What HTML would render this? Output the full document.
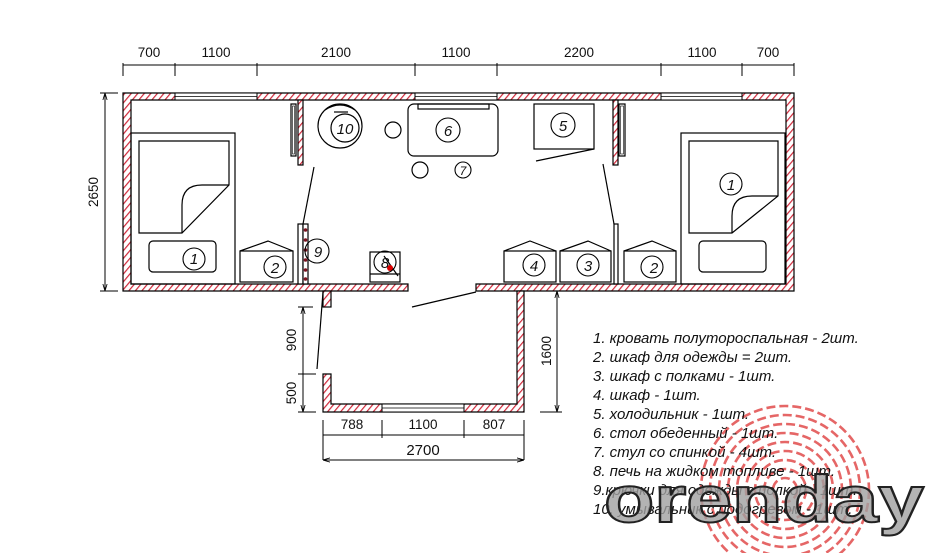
<!DOCTYPE html>
<html><head><meta charset="utf-8"><style>
html,body{margin:0;padding:0;background:#fff;overflow:hidden;width:927px;height:553px;}
svg{display:block;}
text{font-family:"Liberation Sans",sans-serif;fill:#111;}
.n{font-style:italic;font-size:15px;text-anchor:middle;}
.d{font-size:13.5px;text-anchor:middle;}
.l{font-style:italic;font-size:15px;}
</style></head><body>
<svg width="927" height="553" viewBox="0 0 927 553" xmlns="http://www.w3.org/2000/svg">
<defs>
<pattern id="h" width="5" height="5" patternUnits="userSpaceOnUse" patternTransform="rotate(40)">
<rect width="5" height="5" fill="#fff"/><line x1="0" y1="0" x2="0" y2="5" stroke="#d0283a" stroke-width="2.4"/>
</pattern>
<marker id="a" viewBox="0 0 10 10" refX="10" refY="5" markerWidth="7" markerHeight="7" orient="auto-start-reverse"><path d="M0,2 L10,5 L0,8" fill="none" stroke="#000" stroke-width="1.2"/></marker>
<clipPath id="c"><rect x="0" y="0" width="927" height="553"/></clipPath>
</defs>
<g clip-path="url(#c)">
<g fill="none" stroke="#d33" stroke-width="2.6" opacity="0.75" stroke-dasharray="9 4">
<circle cx="785" cy="490" r="12"/><circle cx="785" cy="490" r="21"/><circle cx="785" cy="490" r="30"/><circle cx="785" cy="490" r="39"/><circle cx="785" cy="490" r="48"/><circle cx="785" cy="490" r="57"/><circle cx="785" cy="490" r="66"/><circle cx="785" cy="490" r="75"/><circle cx="785" cy="490" r="84"/>
</g>
<g stroke="#000" stroke-width="1" fill="none">
<line x1="123" y1="65" x2="794" y2="65"/>
<line x1="123" y1="63" x2="123" y2="76"/><line x1="175" y1="63" x2="175" y2="76"/><line x1="257" y1="63" x2="257" y2="76"/><line x1="415" y1="63" x2="415" y2="76"/><line x1="497" y1="63" x2="497" y2="76"/><line x1="661" y1="63" x2="661" y2="76"/><line x1="742" y1="63" x2="742" y2="76"/><line x1="794" y1="63" x2="794" y2="76"/>
<line x1="105" y1="93" x2="105" y2="291" marker-start="url(#a)" marker-end="url(#a)"/>
<line x1="100" y1="93" x2="118" y2="93"/><line x1="100" y1="291" x2="118" y2="291"/>
</g>
<g class="d">
<text x="149" y="57">700</text><text x="216" y="57">1100</text><text x="336" y="57">2100</text><text x="456" y="57">1100</text><text x="579" y="57">2200</text><text x="702" y="57">1100</text><text x="768" y="57">700</text>
</g>
<text class="d" transform="translate(98,192) rotate(-90)">2650</text>

<g fill="url(#h)" stroke="#000" stroke-width="1.2">
<path d="M123,93 H794 V291 H476 V284 H786 V100 H131 V284 H408 V291 H123 Z"/>
<rect x="323" y="291" width="8" height="16"/>
<path d="M323,374 H331 V404 H517 V291 H524 V412 H323 Z"/>
<rect x="298" y="100" width="5" height="65"/>
<rect x="613" y="100" width="5" height="65"/>
</g>
<g fill="#fff" stroke="#000" stroke-width="1">
<rect x="175" y="93" width="82" height="7"/><rect x="415" y="93" width="82" height="7"/><rect x="661" y="93" width="81" height="7"/>
<rect x="382" y="404" width="82" height="8"/>
</g>
<g stroke="#000" stroke-width="0.8"><line x1="175" y1="96.5" x2="257" y2="96.5"/><line x1="415" y1="96.5" x2="497" y2="96.5"/><line x1="661" y1="96.5" x2="742" y2="96.5"/><line x1="382" y1="408" x2="464" y2="408"/></g>

<g fill="none" stroke="#000" stroke-width="1.2">
<rect x="291" y="104" width="5" height="52"/><rect x="292.5" y="106" width="2" height="48" stroke-width="0.6"/>
<rect x="619" y="104" width="6" height="52"/><rect x="620.5" y="106" width="3" height="48" stroke-width="0.6"/>
<rect x="298" y="224" width="5" height="60" fill="#fff"/>
<rect x="303" y="224" width="5" height="60" fill="#fff"/>
<rect x="614" y="224" width="4" height="60" fill="#fff"/>
<line x1="303" y1="224" x2="314" y2="167"/>
<line x1="603" y1="164" x2="614" y2="224"/>
<line x1="317" y1="369" x2="323" y2="292"/>
<line x1="412" y1="307" x2="476" y2="292"/>
<rect x="131" y="133" width="104" height="151"/>
<path d="M139,141 H229 V185 L182,233 H139 Z"/>
<path d="M229,185 H202 Q182,185 182,205 V233"/>
<rect x="149" y="241" width="67" height="31" rx="4"/>
<rect x="681" y="133" width="104" height="151"/>
<path d="M689,141 H778 V196 L732,233 H689 Z"/>
<path d="M778,196 H752 Q732,196 732,216 V233"/>
<rect x="699" y="241" width="67" height="31" rx="4"/>
<rect x="240" y="251" width="53" height="31"/><path d="M240,251 L268,241 L293,251"/>
<rect x="504" y="251" width="52" height="31"/><path d="M504,251 L530,241 L556,251"/>
<rect x="560" y="251" width="51" height="31"/><path d="M560,251 L588,241 L611,251"/>
<rect x="624" y="251" width="52" height="31"/><path d="M624,251 L652,241 L676,251"/>
<rect x="534" y="104" width="60" height="45"/>
<line x1="536" y1="161" x2="594" y2="149"/>
<rect x="408" y="104" width="90" height="52" rx="6"/>
<rect x="418" y="104" width="71" height="5"/>
<circle cx="393" cy="130" r="8"/><circle cx="420" cy="170" r="8"/>
<circle cx="340" cy="126" r="22"/>
<path d="M325,110 Q340,100 355,110"/>
<circle cx="345" cy="128" r="14"/>
<line x1="334" y1="112" x2="348" y2="112"/>
<rect x="370" y="252" width="30" height="30"/>
<line x1="370" y1="274" x2="400" y2="274"/>
<line x1="384" y1="256" x2="398" y2="276"/>
</g>
<g fill="#7a1420"><circle cx="305.5" cy="230" r="1.8"/><circle cx="305.5" cy="240" r="1.8"/><circle cx="305.5" cy="250" r="1.8"/><circle cx="305.5" cy="260" r="1.8"/><circle cx="305.5" cy="270" r="1.8"/><circle cx="305.5" cy="279" r="1.8"/></g>
<circle cx="390" cy="268" r="3" fill="#d00"/>
<g fill="none" stroke="#000" stroke-width="1.1">
<circle cx="194" cy="259" r="11"/><circle cx="275" cy="267" r="11"/><circle cx="317" cy="251" r="12"/><circle cx="385" cy="262" r="11"/>
<circle cx="731" cy="184" r="11"/><circle cx="652" cy="267" r="11"/><circle cx="588" cy="265" r="11"/><circle cx="534" cy="265" r="11"/>
<circle cx="563" cy="125" r="12"/><circle cx="448" cy="130" r="12"/><circle cx="463" cy="170" r="8"/>
</g>
<g class="n">
<text x="194" y="264">1</text><text x="275" y="273">2</text><text x="318" y="257">9</text><text x="385" y="268">8</text>
<text x="731" y="190">1</text><text x="654" y="273">2</text><text x="588" y="271">3</text><text x="534" y="271">4</text>
<text x="563" y="131">5</text><text x="448" y="136">6</text><text x="463" y="175" style="font-size:12px">7</text><text x="345" y="134">10</text>
</g>

<g stroke="#000" stroke-width="1" fill="none">
<line x1="303" y1="307" x2="303" y2="412" marker-start="url(#a)" marker-end="url(#a)"/>
<line x1="298" y1="307" x2="313" y2="307"/><line x1="298" y1="374" x2="316" y2="374"/><line x1="298" y1="412" x2="316" y2="412"/>
<line x1="557" y1="291" x2="557" y2="412" marker-start="url(#a)" marker-end="url(#a)"/>
<line x1="540" y1="412" x2="562" y2="412"/>
<line x1="323" y1="435" x2="524" y2="435"/>
<line x1="323" y1="420" x2="323" y2="460"/><line x1="382" y1="420" x2="382" y2="438"/><line x1="464" y1="420" x2="464" y2="438"/><line x1="524" y1="420" x2="524" y2="460"/>
<line x1="323" y1="460" x2="524" y2="460" marker-start="url(#a)" marker-end="url(#a)"/>
</g>
<text class="d" transform="translate(296,340) rotate(-90)">900</text>
<text class="d" transform="translate(296,393) rotate(-90)">500</text>
<text class="d" transform="translate(551,351) rotate(-90)">1600</text>
<g class="d"><text x="352" y="429">788</text><text x="423" y="429">1100</text><text x="494" y="429">807</text><text x="423" y="455" style="font-size:15px">2700</text></g>

<g class="l">
<text x="593" y="343">1. кровать полутороспальная - 2шт.</text>
<text x="593" y="362">2. шкаф для одежды = 2шт.</text>
<text x="593" y="381">3. шкаф с полками - 1шт.</text>
<text x="593" y="400">4. шкаф - 1шт.</text>
<text x="593" y="419">5. холодильник - 1шт.</text>
<text x="593" y="438">6. стол обеденный - 1шт.</text>
<text x="593" y="457">7. стул со спинкой  - 4шт.</text>
<text x="593" y="476">8. печь на жидком топливе - 1шт.</text>
<text x="593" y="495">9.крючки для одежды с полкой - 1шт.</text>
<text x="593" y="514">10. умывальник с подогревом - 1шт.</text>
</g>
<text x="604" y="522" style="font-family:'Liberation Sans',sans-serif;font-weight:bold;font-size:66px;fill:#a0a0a0;fill-opacity:0.8;stroke:#222;stroke-width:2" textLength="320" lengthAdjust="spacingAndGlyphs">orenday</text>
</g>
</svg>
</body></html>
